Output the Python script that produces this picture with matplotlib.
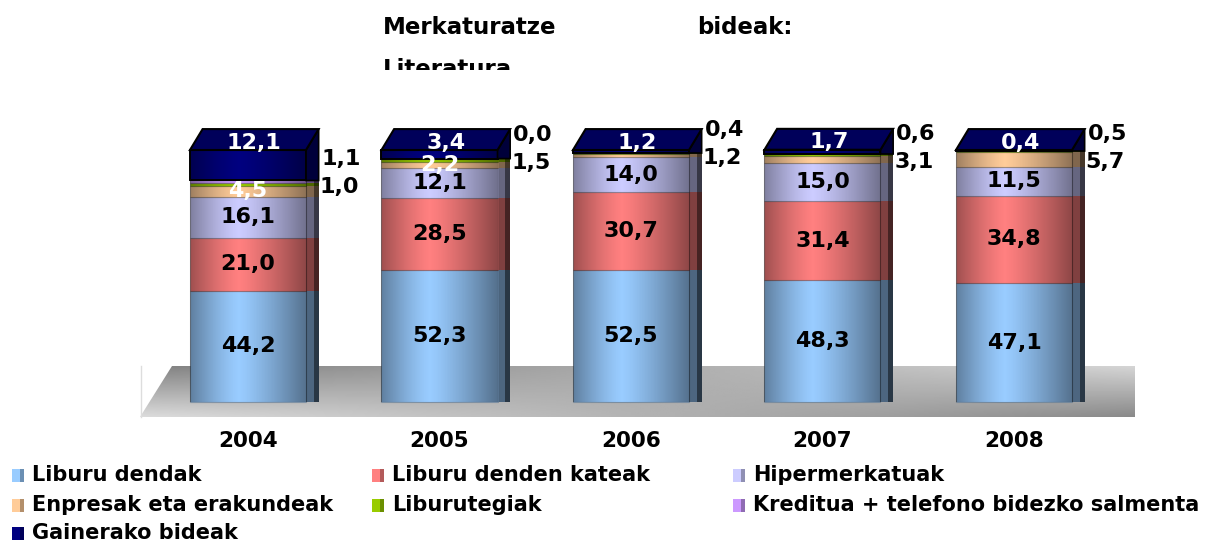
import numpy as np
import matplotlib
matplotlib.use('Agg')
import matplotlib.pyplot as plt
from matplotlib.patches import Rectangle, Polygon
from matplotlib.transforms import Bbox, TransformedBbox
import matplotlib.colors as mcolors

years = ['2004', '2005', '2006', '2007', '2008']
series_names = ['Liburu dendak', 'Liburu denden kateak', 'Hipermerkatuak',
                'Enpresak eta erakundeak', 'Liburutegiak',
                'Kreditua + telefono bidezko salmenta', 'Gainerako bideak']

liburu_dendak = [44.2, 52.3, 52.5, 48.3, 47.1]
denden_kateak = [21.0, 28.5, 30.7, 31.4, 34.8]
hipermerkatuak = [16.1, 12.1, 14.0, 15.0, 11.5]
enpresak = [4.5, 2.2, 1.2, 3.1, 5.7]
liburutegiak = [1.0, 1.5, 0.4, 0.6, 0.5]
kreditua = [1.1, 0.0, 0.0, 0.0, 0.0]
gainerakoak = [12.1, 3.4, 1.2, 1.7, 0.4]

series = [liburu_dendak, denden_kateak, hipermerkatuak, enpresak,
          liburutegiak, kreditua, gainerakoak]
colors = ['#99ccff', '#ff8080', '#ccccff', '#ffcc99', '#99cc00', '#cc99ff', '#000080']

# which small series get their label beside the bar (lower / upper) or inside in white
side_low = [4, 4, 3, 3, 3]
side_high = [5, 5, 4, 4, 4]
inner_small = [3, 3, None, None, None]


def shade(c, f):
    r, g, b = mcolors.to_rgb(c)
    return (r * f, g * f, b * f)


def fmt(v):
    return f'{v:.1f}'.replace('.', ',')


def main():
    fig = plt.figure(figsize=(12.07, 5.42), dpi=100)
    ax = fig.add_axes([0, 120 / 542, 1, 320 / 542])
    ax.set_xlim(-1.295, 5.008)
    ax.set_ylim(-7.94, 119.05)
    ax.axis('off')

    x = np.arange(len(years))
    w = 0.606
    dx, dy = 0.066, 8.3

    # floor
    gx, gy = np.meshgrid(np.linspace(0, 1, 200), np.linspace(0, 1, 60))
    g = (1 - gx) * (0.50 + 0.36 * gy) + gx * (0.84 - 0.30 * gy)
    floor = Polygon([(-0.397, 14.3), (4.632, 14.3), (4.632, -5.95), (-0.564, -5.95)],
                    closed=True, facecolor='none', edgecolor='none')
    ax.add_patch(floor)
    im = ax.imshow(g, cmap='gray', vmin=0, vmax=1, extent=(-0.564, 4.632, -5.95, 14.3),
                   aspect='auto', zorder=1, interpolation='bilinear')
    im.set_clip_path(floor)
    ax.plot([-0.56, -0.56], [-5.9, 14.3], color='#dddddd', lw=1, zorder=1)

    bottom = np.zeros(len(years))
    cums = []
    for i, vals in enumerate(series):
        vals = np.array(vals)
        top_box = i == len(series) - 1
        ax.bar(x, vals, w, bottom=bottom, color=colors[i],
               edgecolor='black' if top_box else (0, 0, 0, 0.25),
               linewidth=1.4 if top_box else 0.8, zorder=3)
        for j in range(len(years)):
            if vals[j] <= 0:
                continue
            x1 = x[j] + w / 2
            if top_box:
                t = bottom[j] + vals[j]
                ax.add_patch(Polygon([(x1, bottom[j]), (x1, t), (x1 + dx, t + dy), (x1 + dx, bottom[j])],
                                     closed=True, facecolor='#00003a', edgecolor='black',
                                     lw=1.2, zorder=3))
            else:
                ax.add_patch(Rectangle((x1, bottom[j]), dx * 0.6, vals[j],
                                       facecolor=shade(colors[i], 0.5), edgecolor='none', zorder=2.5))
                ax.add_patch(Rectangle((x1 + dx * 0.6, bottom[j]), dx * 0.4, vals[j],
                                       facecolor=shade(colors[i], 0.27), edgecolor='none', zorder=2.5))
        cums.append(bottom.copy())
        bottom = bottom + vals
    totals = bottom

    # cylinder-like shading on the front faces
    t = np.linspace(0, 1, 200)
    alpha = np.where(t < 0.42, 0.38 * (1 - t / 0.42) ** 1.3, 0.45 * ((t - 0.42) / 0.58) ** 1.2)
    img = np.zeros((1, 200, 4))
    img[..., 3] = alpha
    for j in range(len(years)):
        ax.imshow(img, extent=(x[j] - w / 2, x[j] + w / 2, 0, totals[j]), aspect='auto',
                  zorder=3.5, interpolation='bilinear')
        x0, x1, tp = x[j] - w / 2, x[j] + w / 2, totals[j]
        ax.add_patch(Polygon([(x0, tp), (x1, tp), (x1 + dx, tp + dy), (x0 + dx, tp + dy)],
                             closed=True, facecolor='#00005a', edgecolor='black', lw=1.5, zorder=4))

    # labels
    fs = 16
    for j in range(len(years)):
        for i in range(3):
            yc = cums[i][j] + series[i][j] / 2
            ax.text(x[j], yc, fmt(series[i][j]), ha='center', va='center',
                    fontsize=fs, fontweight='bold', color='black', zorder=6)
        k = inner_small[j]
        if k is not None:
            yc = cums[k][j] + series[k][j] / 2
            ax.text(x[j], yc, fmt(series[k][j]), ha='center', va='center',
                    fontsize=fs, fontweight='bold', color='white', zorder=6)
        lo, hi = side_low[j], side_high[j]
        ylo = cums[lo][j] + series[lo][j] / 2 - 1
        ax.text(x[j] + w / 2 + dx + 0.005, ylo, fmt(series[lo][j]),
                ha='left', va='center', fontsize=fs, fontweight='bold', zorder=6)
        ax.annotate(fmt(series[hi][j]), (x[j] + w / 2 + dx + 0.015, ylo),
                    xytext=(0, 20), textcoords='offset points', ha='left', va='center',
                    fontsize=fs, fontweight='bold', zorder=6)
        ax.text(x[j] + dx / 2, totals[j] + dy / 2 - 1.2, fmt(gainerakoak[j]),
                ha='center', va='center', fontsize=fs, fontweight='bold', color='white', zorder=6)
        ax.text(x[j], -15.3, years[j], ha='center', va='center', fontsize=15.5, fontweight='bold')

    # title
    fig.text(383 / 1207, 1 - 28 / 542, 'Merkaturatze', ha='left', va='center',
             fontsize=16.5, fontweight='bold')
    fig.text(697 / 1207, 1 - 28 / 542, 'bideak:', ha='left', va='center',
             fontsize=16.5, fontweight='bold')
    lit = fig.text(383 / 1207, 1 - 58 / 542, 'Literatura', ha='left', va='top',
                   fontsize=16.5, fontweight='bold')
    lit.set_clip_box(TransformedBbox(Bbox.from_extents(0, 1 - 70 / 542, 1, 1), fig.transFigure))
    lit.set_clip_on(True)

    # legend, row by row
    col_x = [12, 372, 733]
    row_y = [475, 505, 533]
    for n, name in enumerate(series_names):
        r, c = divmod(n, 3)
        px, py = col_x[c], row_y[r]
        fig.add_artist(Rectangle((px / 1207, 1 - (py + 7) / 542), 8 / 1207, 13 / 542,
                                 transform=fig.transFigure, facecolor=colors[n], lw=0))
        fig.add_artist(Rectangle(((px + 8) / 1207, 1 - (py + 7) / 542), 4 / 1207, 13 / 542,
                                 transform=fig.transFigure, facecolor=shade(colors[n], 0.7), lw=0))
        fig.text((px + 20) / 1207, 1 - py / 542, name, ha='left', va='center',
                 fontsize=15, fontweight='bold')

    fig.savefig('out.png', dpi=100)


if __name__ == '__main__':
    main()
